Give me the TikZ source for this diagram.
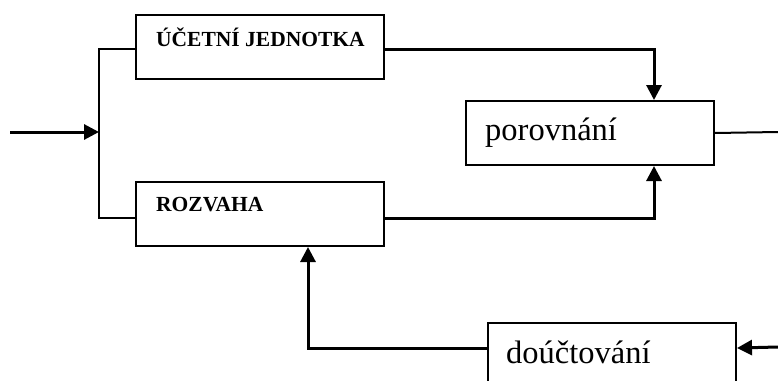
\documentclass[tikz,border=0pt]{standalone}
\usepackage{fontspec}
\setmainfont{Liberation Serif}
\usetikzlibrary{arrows.meta}
\begin{document}
\begin{tikzpicture}[x=1pt,y=-1pt,
  box/.style={draw,line width=2pt,minimum width=248pt,minimum height=64pt,inner sep=0pt,anchor=north west},
  bold/.style={anchor=base west,inner sep=0pt,font=\fontsize{21.5}{24}\selectfont\bfseries},
  big/.style={anchor=base west,inner sep=0pt,font=\fontsize{32.5}{36}\selectfont},
  conn/.style={line width=2pt},
  arr/.style={line width=3pt,-{Triangle[length=15pt,width=15pt]}}]
\clip (0,0) rectangle (778,380);
\node[box] (ue) at (135,14) {};
\node[box] (rz) at (135,181) {};
\node[box] (po) at (465,100) {};
\node[box,minimum height=66pt] (do) at (487,322) {};
\node[bold] (tue) at (156,46) {ÚČETNÍ JEDNOTKA};
\node[bold] (trz) at (156,211) {ROZVAHA};
\node[big] (tpo) at (485,140) {porovnání};
\node[big] (tdo) at (506,363) {doúčtování};
\coordinate (in) at (10,132);
\coordinate (j) at (99,132);
\coordinate (out) at (778,132);
\coordinate (rin) at (778,347);
\draw[arr] (in) -- (j);
\draw[conn] ([yshift=-2pt]ue.west) -- ([yshift=-2pt]ue.west -| j) -- ([yshift=-4pt]rz.west -| j) -- ([yshift=-4pt]rz.west);
\draw[arr] ([yshift=-2pt]ue.east) -| ([xshift=64pt]po.north);
\draw[arr] ([yshift=-4pt]rz.east) -| ([xshift=64pt]po.south);
\draw[conn] (po.east) -- (out);
\draw[arr] (rin) -- ([yshift=8pt]do.east);
\draw[arr] ([yshift=8pt]do.west) -| ([xshift=48pt]rz.south);
\end{tikzpicture}
\end{document}
